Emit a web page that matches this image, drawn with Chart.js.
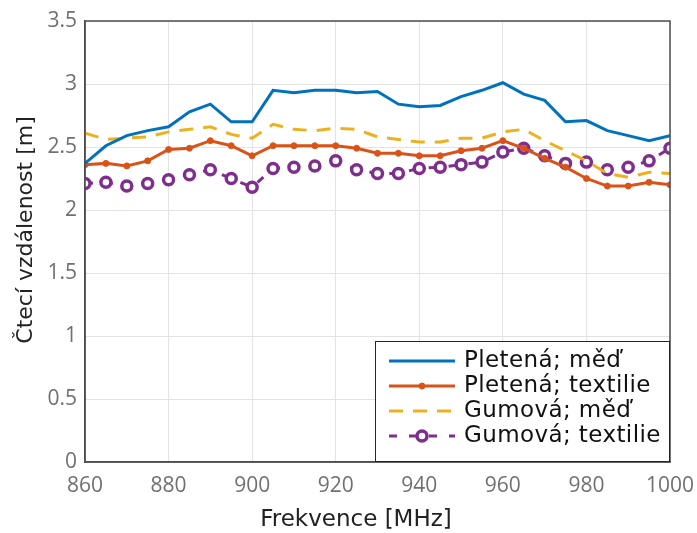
<!DOCTYPE html>
<html>
<head>
<meta charset="utf-8">
<script src="https://cdn.jsdelivr.net/npm/chart.js@4"></script>
<style>
  html, body { margin: 0; padding: 0; background: #fff; }
  #wrap { width: 697px; height: 533px; }
</style>
</head>
<body>
<div id="wrap"><canvas id="chart" width="697" height="533"></canvas></div>
<script>
// Frequencies in MHz, step 5
const freqs = [860, 865, 870, 875, 880, 885, 890, 895, 900, 905, 910, 915, 920, 925, 930,
               935, 940, 945, 950, 955, 960, 965, 970, 975, 980, 985, 990, 995, 1000];

const pletenaMed = [2.37, 2.51, 2.59, 2.63, 2.66, 2.78, 2.84, 2.70, 2.70, 2.95, 2.93, 2.95, 2.95, 2.93, 2.94,
                    2.84, 2.82, 2.83, 2.90, 2.95, 3.01, 2.92, 2.87, 2.70, 2.71, 2.63, 2.59, 2.55, 2.59];
const pletenaTextil = [2.36, 2.37, 2.35, 2.39, 2.48, 2.49, 2.55, 2.51, 2.43, 2.51, 2.51, 2.51, 2.51, 2.49, 2.45,
                       2.45, 2.43, 2.43, 2.47, 2.49, 2.55, 2.49, 2.41, 2.34, 2.25, 2.19, 2.19, 2.22, 2.20];
const gumovaMed = [2.61, 2.56, 2.57, 2.58, 2.62, 2.64, 2.66, 2.60, 2.57, 2.68, 2.64, 2.63, 2.65, 2.64, 2.58,
                   2.56, 2.54, 2.54, 2.57, 2.57, 2.62, 2.64, 2.55, 2.47, 2.39, 2.29, 2.26, 2.30, 2.29];
const gumovaTextil = [2.21, 2.22, 2.19, 2.21, 2.24, 2.28, 2.32, 2.25, 2.18, 2.33, 2.34, 2.35, 2.39, 2.32, 2.29,
                      2.29, 2.33, 2.34, 2.36, 2.38, 2.46, 2.49, 2.43, 2.37, 2.38, 2.32, 2.34, 2.39, 2.49];

const seriesLabels = ['Pletená; měď', 'Pletená; textilie', 'Gumová; měď', 'Gumová; textilie'];
const xTicks = [860, 880, 900, 920, 940, 960, 980, 1000];
const yTicks = [0, 0.5, 1, 1.5, 2, 2.5, 3, 3.5];

const TICK_FONT = '"Open Sans", "Liberation Sans", sans-serif';
const TEXT_FONT = '"DejaVu Sans", "Open Sans", sans-serif';

function toPoints(values) {
    return freqs.map((f, i) => ({ x: f, y: values[i] }));
}

// box round the axes, like matlab's "box on"
const boxPlugin = {
    id: 'box',
    afterDraw(chart) {
        const a = chart.chartArea;
        const ctx = chart.ctx;
        ctx.save();
        ctx.strokeStyle = '#4d4d4d';
        ctx.lineWidth = 1.5;
        ctx.strokeRect(a.left, a.top, a.right - a.left, a.bottom - a.top);
        ctx.restore();
    }
};

// axis titles placed by hand (the x one sits left of centre in the reference)
const titlesPlugin = {
    id: 'titles',
    afterDraw(chart) {
        const ctx = chart.ctx;
        ctx.save();
        ctx.fillStyle = '#222';
        ctx.font = '23px ' + TEXT_FONT;
        ctx.textAlign = 'center';
        ctx.textBaseline = 'middle';
        ctx.fillText('Frekvence [MHz]', 356, 520);
        ctx.font = '22px ' + TEXT_FONT;
        ctx.translate(26, 230);
        ctx.rotate(-Math.PI / 2);
        ctx.fillText('Čtecí vzdálenost [m]', 0, 0);
        ctx.restore();
    }
};

// legend drawn inside the plot, bottom right
const insideLegend = {
    id: 'insideLegend',
    afterDraw(chart) {
        const ctx = chart.ctx;
        const a = chart.chartArea;
        const w = 295, h = 121;
        const x0 = a.right - w, y0 = a.bottom - h;
        ctx.save();
        ctx.fillStyle = '#fff';
        ctx.fillRect(x0, y0, w, h);
        ctx.strokeStyle = '#262626';
        ctx.lineWidth = 1;
        ctx.strokeRect(x0 + 0.5, y0 + 0.5, w - 1, h - 1);
        chart.data.datasets.forEach((ds, i) => {
            const cy = y0 + 20 + i * 25;
            const lx0 = x0 + 14, lx1 = x0 + 80;
            ctx.strokeStyle = ds.borderColor;
            ctx.lineWidth = ds.borderWidth;
            ctx.setLineDash(ds.borderDash || []);
            ctx.beginPath();
            ctx.moveTo(lx0, cy);
            ctx.lineTo(lx1, cy);
            ctx.stroke();
            ctx.setLineDash([]);
            if (ds.pointRadius > 0) {
                ctx.beginPath();
                ctx.arc((lx0 + lx1) / 2, cy, ds.pointRadius, 0, Math.PI * 2);
                ctx.fillStyle = ds.pointBackgroundColor;
                ctx.fill();
                ctx.lineWidth = ds.pointBorderWidth;
                ctx.strokeStyle = ds.borderColor;
                ctx.stroke();
            }
            ctx.fillStyle = '#111';
            ctx.font = '23px ' + TEXT_FONT;
            ctx.letterSpacing = '0.4px';
            ctx.textAlign = 'left';
            ctx.textBaseline = 'middle';
            ctx.fillText(ds.label, x0 + 89, cy);
            ctx.letterSpacing = '0px';
        });
        ctx.restore();
    }
};

new Chart(document.getElementById('chart'), {
    type: 'line',
    data: {
        datasets: [
            {
                label: seriesLabels[0],
                data: toPoints(pletenaMed),
                borderColor: '#0072BD',
                borderWidth: 3,
                pointRadius: 0
            },
            {
                label: seriesLabels[1],
                data: toPoints(pletenaTextil),
                borderColor: '#D95319',
                backgroundColor: '#D95319',
                borderWidth: 3,
                pointRadius: 3,
                pointBorderWidth: 1,
                pointBackgroundColor: '#D95319'
            },
            {
                label: seriesLabels[2],
                data: toPoints(gumovaMed),
                borderColor: '#EDB120',
                borderWidth: 3,
                borderDash: [14, 10],
                pointRadius: 0
            },
            {
                label: seriesLabels[3],
                data: toPoints(gumovaTextil),
                borderColor: '#7E2F8E',
                borderWidth: 3,
                borderDash: [8, 12],
                pointRadius: 5,
                pointBorderWidth: 3.5,
                pointBackgroundColor: '#ffffff'
            }
        ]
    },
    options: {
        responsive: false,
        animation: false,
        layout: { padding: { top: 21, right: 27, left: 0, bottom: 0 } },
        plugins: {
            legend: { display: false },
            tooltip: { enabled: false }
        },
        scales: {
            x: {
                type: 'linear',
                min: 860,
                max: 1000,
                afterBuildTicks: s => { s.ticks = xTicks.map(v => ({ value: v })); },
                afterFit: s => { s.height = 71; s.paddingLeft = 0; s.paddingRight = 0; },
                grid: { color: '#e3e3e3', lineWidth: 1, tickLength: 0 },
                border: { color: '#4d4d4d', width: 1.5 },
                ticks: {
                    color: '#707070',
                    font: { family: TICK_FONT, size: 21 },
                    padding: 11,
                    maxRotation: 0,
                    callback: v => String(v)
                }
            },
            y: {
                min: 0,
                max: 3.5,
                afterBuildTicks: s => { s.ticks = yTicks.map(v => ({ value: v })); },
                afterFit: s => { s.width = 85; s.paddingTop = 0; s.paddingBottom = 0; },
                grid: { color: '#e3e3e3', lineWidth: 1, tickLength: 0 },
                border: { color: '#4d4d4d', width: 1.5 },
                ticks: {
                    color: '#707070',
                    font: { family: TICK_FONT, size: 21 },
                    padding: 8,
                    callback: v => String(v)
                }
            }
        }
    },
    plugins: [boxPlugin, titlesPlugin, insideLegend]
});
</script>
</body>
</html>
